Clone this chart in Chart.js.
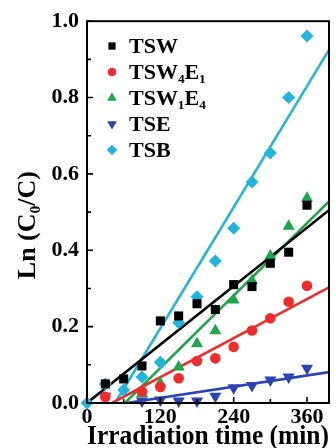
<!DOCTYPE html>
<html>
<head>
<meta charset="utf-8">
<script src="https://cdn.jsdelivr.net/npm/chart.js"></script>
<style>
  html, body { margin: 0; padding: 0; background: #fff; }
  #wrap { width: 336px; height: 448px; }
</style>
</head>
<body>
<div id="wrap"><canvas id="myChart" width="336" height="448"></canvas></div>
<script>
// irradiation times (min)
const times = [0, 30, 60, 90, 120, 150, 180, 210, 240, 270, 300, 330, 360];

// Ln(C0/C)
const tsw    = [null, 0.050, 0.063, 0.097, 0.215, 0.228, 0.260, 0.245, 0.310, 0.305, 0.366, 0.395, 0.518];
const tsw4e1 = [null, 0.016, null, 0.030, 0.042, 0.065, 0.110, 0.117, 0.147, 0.190, 0.222, 0.265, 0.307];
const tsw1e4 = [null, null, null, 0.024, 0.052, 0.094, 0.155, 0.189, 0.270, 0.320, 0.385, 0.463, 0.536];
const tse    = [null, 0.018, null, 0.005, 0.008, 0.005, 0.005, 0.018, 0.040, 0.046, 0.060, 0.068, 0.091];
const tsb    = [0, 0.050, 0.034, 0.068, 0.107, 0.210, 0.278, 0.372, 0.458, 0.579, 0.655, 0.800, 0.961];

// linear fits: [start time, end time], [start value, end value]
const fitTsw    = [[0, 396], [0, 0.505]];
const fitTsw4e1 = [[41, 396], [0, 0.303]];
const fitTsw1e4 = [[62, 396], [0, 0.528]];
const fitTse    = [[65, 396], [0, 0.081]];
const fitTsb    = [[46, 396], [0, 0.925]];

const xTicks = [0, 120, 240, 360];
const yTicks = [0, 0.2, 0.4, 0.6, 0.8, 1.0];

const names = ['TSW', 'TSW\u2084E\u2081', 'TSW\u2081E\u2084', 'TSE', 'TSB'];
const colors = ['#000000', '#f22a2a', '#1da64a', '#2b44b3', '#1fb5dd'];
const styles = ['rect', 'circle', 'triangle', 'triangle', 'rectRot'];
const radii = [6.4, 5.3, 7, 7, 6.5];
const rots = [0, 0, 0, 180, 0];

const serif = '"Liberation Serif", "Times New Roman", serif';

function pts(ys) {
    return times.map((t, i) => ({ x: t, y: ys[i] })).filter(p => p.y !== null);
}
function fit(f) {
    return [{ x: f[0][0], y: f[1][0] }, { x: f[0][1], y: f[1][1] }];
}

const series = [tsw, tsw4e1, tsw1e4, tse, tsb];
const fits = [fitTsw, fitTsw4e1, fitTsw1e4, fitTse, fitTsb];

const datasets = [];
fits.forEach((f, i) => {
    datasets.push({
        type: 'line',
        label: names[i] + ' fit',
        data: fit(f),
        borderColor: colors[i],
        borderWidth: 2.6,
        pointRadius: 0,
        fill: false,
        order: 2
    });
});
series.forEach((s, i) => {
    datasets.push({
        type: 'scatter',
        label: names[i],
        data: pts(s),
        backgroundColor: colors[i],
        borderColor: colors[i],
        borderWidth: 0,
        pointStyle: styles[i],
        pointRadius: radii[i],
        pointRotation: rots[i],
        clip: false,
        order: 1
    });
});

// box, inward ticks and legend
const frame = {
    id: 'frame',
    afterDraw(chart) {
        const c = chart.ctx;
        const a = chart.chartArea;
        const xs = chart.scales.x, ys = chart.scales.y;
        c.save();
        c.strokeStyle = '#000';
        c.lineWidth = 2;
        c.strokeRect(a.left, a.top, a.right - a.left, a.bottom - a.top);
        c.lineWidth = 1.6;
        c.beginPath();
        for (let v = 0; v <= 360; v += 60) {
            const px = xs.getPixelForValue(v);
            const len = v % 120 === 0 ? 6 : 4;
            c.moveTo(px, a.bottom);
            c.lineTo(px, a.bottom - len);
        }
        for (let k = 0; k <= 10; k++) {
            const py = ys.getPixelForValue(k / 10);
            const len = k % 2 === 0 ? 6 : 4;
            c.moveTo(a.left, py);
            c.lineTo(a.left + len, py);
        }
        c.stroke();

        // legend
        const rowY = [46, 72, 98, 124, 150];
        c.font = 'bold 22px ' + serif;
        c.textBaseline = 'middle';
        names.forEach((n, i) => {
            const opts = { pointStyle: styles[i], radius: radii[i] * 0.8, rotation: rots[i], borderWidth: 0 };
            c.fillStyle = colors[i];
            c.strokeStyle = colors[i];
            Chart.helpers.drawPoint(c, opts, 112, rowY[i]);
            c.fillStyle = '#000';
            c.fillText(n, 129, rowY[i] + 1);
        });
        c.restore();
    }
};

new Chart(document.getElementById('myChart'), {
    data: { datasets: datasets },
    options: {
        responsive: false,
        animation: false,
        layout: { padding: { top: 21, right: 7, left: 0, bottom: 0 } },
        plugins: { legend: { display: false }, tooltip: { enabled: false } },
        scales: {
            x: {
                type: 'linear',
                min: 0,
                max: 396,
                afterBuildTicks: s => { s.ticks = xTicks.map(v => ({ value: v })); },
                afterFit: s => { s.height = 45; },
                grid: { display: false, drawTicks: false },
                border: { display: false },
                ticks: {
                    padding: 1,
                    color: '#000',
                    maxRotation: 0,
                    font: { family: serif, size: 22, weight: 'bold' }
                },
                title: {
                    display: true,
                    text: 'Irradiation time (min)',
                    color: '#000',
                    padding: { top: 0, bottom: -3 },
                    font: { family: serif, size: 27, weight: 'bold', lineHeight: 1 }
                }
            },
            y: {
                type: 'linear',
                min: 0,
                max: 1.0,
                afterBuildTicks: s => { s.ticks = yTicks.map(v => ({ value: v })); },
                afterFit: s => { s.width = 87; },
                grid: { display: false, drawTicks: false },
                border: { display: false },
                ticks: {
                    padding: 8,
                    color: '#000',
                    font: { family: serif, size: 22, weight: 'bold' },
                    callback: v => v.toFixed(1)
                },
                title: {
                    display: true,
                    text: 'Ln (C\u2080/C)    ',
                    color: '#000',
                    padding: { top: 15, bottom: 0 },
                    font: { family: serif, size: 26, weight: 'bold', lineHeight: 1 }
                }
            }
        }
    },
    plugins: [frame]
});
</script>
</body>
</html>
